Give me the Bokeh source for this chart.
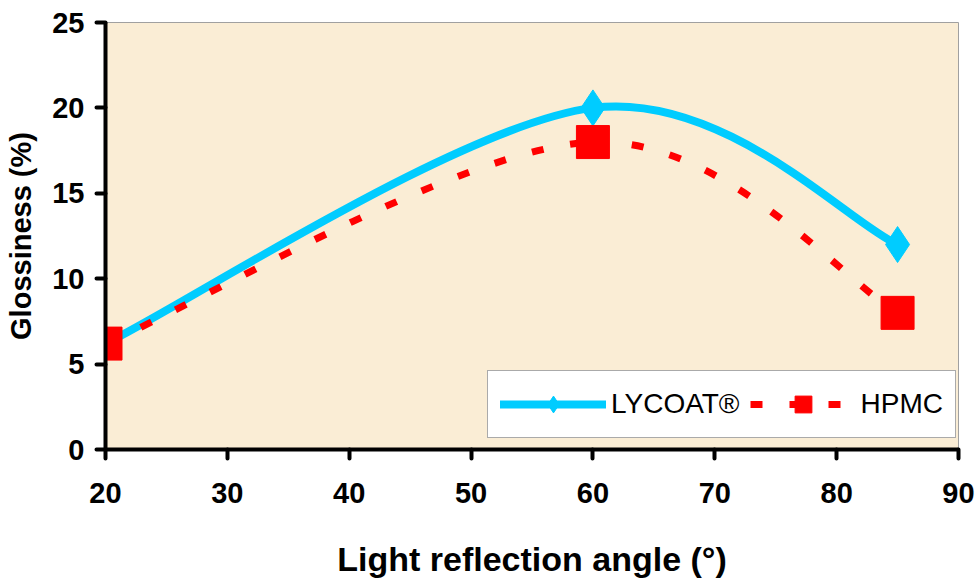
from bokeh.plotting import figure
from bokeh.models import Range1d, FixedTicker, Legend, LegendItem, ColumnDataSource
from bokeh.embed import file_html
from bokeh.resources import INLINE

# ---- data ----
angles = [20, 60, 85]
lycoat = [6.2, 20.0, 12.0]
hpmc = [6.2, 18.0, 8.0]
x_ticks = [20, 30, 40, 50, 60, 70, 80, 90]
y_ticks = [0, 5, 10, 15, 20, 25]
series_names = ["LYCOAT®", "HPMC"]


def smooth_segments(xs, ys):
    """Bezier control points for a smoothed line through the points (Catmull-Rom style)."""
    n = len(xs)
    seg = dict(x0=[], y0=[], x1=[], y1=[], cx0=[], cy0=[], cx1=[], cy1=[])
    for i in range(n - 1):
        xp, yp = (xs[i - 1], ys[i - 1]) if i > 0 else (xs[i], ys[i])
        xn, yn = (xs[i + 2], ys[i + 2]) if i + 2 < n else (xs[i + 1], ys[i + 1])
        seg["x0"].append(xs[i]); seg["y0"].append(ys[i])
        seg["x1"].append(xs[i + 1]); seg["y1"].append(ys[i + 1])
        seg["cx0"].append(xs[i] + (xs[i + 1] - xp) / 6.0)
        seg["cy0"].append(ys[i] + (ys[i + 1] - yp) / 6.0)
        seg["cx1"].append(xs[i + 1] - (xn - xs[i]) / 6.0)
        seg["cy1"].append(ys[i + 1] - (yn - ys[i]) / 6.0)
    return ColumnDataSource(seg)


BLUE = "#00CCFF"
RED = "#FF0000"
FONT = "Liberation Sans"

p = figure(width=975, height=587, output_backend="svg", toolbar_location=None,
           x_range=Range1d(20, 90), y_range=Range1d(0, 25),
           min_border_left=105, min_border_right=17, min_border_top=22, min_border_bottom=138)
p.background_fill_color = "#FAEDD5"
p.border_fill_color = "white"
p.outline_line_color = "#A0A0A0"
p.outline_line_width = 1
p.grid.visible = False

# LYCOAT
r_l_line = p.bezier(x0="x0", y0="y0", x1="x1", y1="y1", cx0="cx0", cy0="cy0", cx1="cx1", cy1="cy1",
                    source=smooth_segments(angles, lycoat), line_color=BLUE, line_width=8, line_cap="round")
r_l_mk = p.scatter(angles, lycoat, marker="diamond", size=36, fill_color=BLUE, line_color=BLUE)
# HPMC
r_h_line = p.bezier(x0="x0", y0="y0", x1="x1", y1="y1", cx0="cx0", cy0="cy0", cx1="cx1", cy1="cy1",
                    source=smooth_segments(angles, hpmc), line_color=RED, line_width=7, line_dash="12 27")
r_h_mk = p.scatter(angles, hpmc, marker="square", size=33, fill_color=RED, line_color=RED)

# axes
for ax in (p.xaxis[0], p.yaxis[0]):
    ax.axis_line_width = 4
    ax.axis_line_color = "black"
    ax.major_tick_line_width = 4
    ax.major_tick_line_color = "black"
    ax.major_tick_line_cap = "round"
    ax.major_tick_out = 9
    ax.major_tick_in = 0
    ax.minor_tick_line_color = None
    ax.major_label_text_font = FONT
    ax.major_label_text_font_style = "bold"
    ax.major_label_text_font_size = "29px"
    ax.major_label_text_color = "black"
    ax.axis_label_text_font = FONT
    ax.axis_label_text_font_style = "bold"
    ax.axis_label_text_color = "black"

p.xaxis.ticker = FixedTicker(ticks=x_ticks)
p.yaxis.ticker = FixedTicker(ticks=y_ticks)
p.xaxis.major_label_standoff = 24
p.yaxis.major_label_standoff = 12
p.xaxis.axis_label = "Light reflection angle (°)"
p.yaxis.axis_label = "Glossiness (%)"
p.xaxis.axis_label_text_font_size = "34px"
p.yaxis.axis_label_text_font_size = "29px"
p.xaxis.axis_label_standoff = 34
p.yaxis.axis_label_standoff = 12

legend = Legend(items=[LegendItem(label=series_names[0], renderers=[r_l_line, r_l_mk]),
                       LegendItem(label=series_names[1], renderers=[r_h_line, r_h_mk])],
                orientation="horizontal", location=(382, 11), margin=0, padding=12,
                glyph_width=106, glyph_height=42, label_height=42, label_standoff=5, spacing=10,
                label_text_font=FONT, label_text_font_size="28px", label_text_color="black",
                border_line_color="#555555", border_line_width=1.5,
                background_fill_color="white", background_fill_alpha=1.0)
p.add_layout(legend, "center")

open("out.html", "w").write(file_html(p, INLINE))
